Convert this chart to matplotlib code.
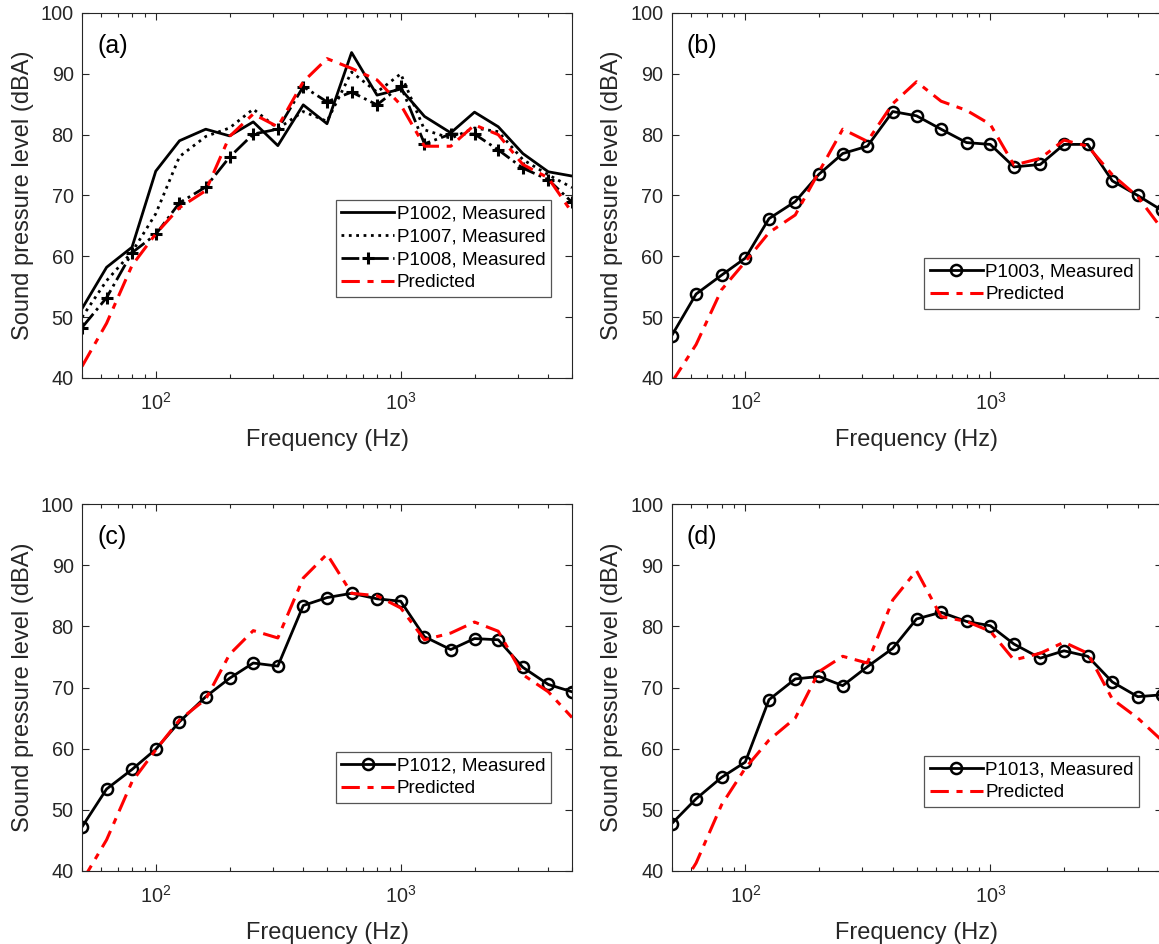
import matplotlib
matplotlib.use("Agg")
import matplotlib.pyplot as plt
from matplotlib.ticker import LogLocator, NullFormatter, MultipleLocator

plt.rcParams['font.family'] = ['Liberation Sans', 'DejaVu Sans']
plt.rcParams['mathtext.fontset'] = 'custom'
plt.rcParams['mathtext.rm'] = 'Liberation Sans'
plt.rcParams['mathtext.it'] = 'Liberation Sans:italic'

# ── Data: one-third octave band centre frequencies (Hz) ─────────────────
freq = [50, 63, 80, 100, 125, 160, 200, 250, 315, 400, 500, 630, 800,
        1000, 1250, 1600, 2000, 2500, 3150, 4000, 5000]

# (a)
p1002 = [51.4, 58.2, 61.5, 74.0, 79.0, 80.9, 79.8, 82.1, 78.2, 84.9, 81.8,
         93.5, 86.5, 87.5, 83.0, 80.3, 83.7, 81.3, 76.9, 73.9, 73.2]
p1007 = [50.0, 56.0, 60.7, 67.0, 76.4, 79.7, 81.1, 84.2, 81.0, 83.8, 82.2,
         90.3, 87.0, 90.0, 80.8, 79.4, 81.1, 80.5, 75.9, 73.4, 71.3]
p1008 = [48.3, 53.2, 60.6, 63.6, 68.8, 71.4, 76.3, 80.1, 80.9, 87.9, 85.4,
         87.0, 84.9, 88.0, 78.5, 80.1, 80.1, 77.5, 74.5, 72.6, 68.9]
pred_a = [41.9, 49.0, 58.5, 63.7, 68.0, 70.8, 79.7, 83.4, 81.3, 88.7, 92.5,
          90.9, 89.0, 84.9, 78.1, 78.1, 81.6, 80.0, 75.1, 72.9, 67.2]

# (b)
p1003 = [46.9, 53.8, 56.9, 59.7, 66.2, 69.0, 73.5, 76.9, 78.1, 83.8, 83.1,
         80.9, 78.7, 78.4, 74.7, 75.1, 78.4, 78.4, 72.4, 70.0, 67.6]
pred_b = [39.2, 45.5, 54.5, 59.1, 63.9, 66.8, 73.9, 80.9, 78.9, 85.1, 88.7,
          85.5, 84.0, 81.7, 75.0, 76.1, 79.1, 78.1, 73.4, 69.8, 64.6]

# (c)
p1012 = [47.2, 53.4, 56.6, 59.9, 64.4, 68.5, 71.5, 74.0, 73.5, 83.4, 84.7,
         85.4, 84.5, 84.1, 78.3, 76.2, 78.0, 77.8, 73.3, 70.5, 69.3]
pred_c = [38.3, 45.1, 54.6, 59.8, 64.7, 68.1, 75.4, 79.3, 78.1, 87.9, 91.8,
          85.4, 85.0, 83.0, 77.8, 78.9, 80.7, 79.2, 72.1, 69.3, 65.1]

# (d)
p1013 = [47.7, 51.8, 55.3, 57.8, 68.0, 71.4, 71.8, 70.3, 73.4, 76.4, 81.2,
         82.3, 80.8, 80.1, 77.1, 74.8, 76.0, 75.1, 70.9, 68.5, 68.8]
pred_d = [34.8, 41.3, 50.8, 56.8, 61.4, 65.0, 72.6, 75.1, 74.0, 84.3, 89.1,
          81.6, 80.8, 79.2, 74.5, 75.6, 77.4, 75.6, 68.1, 65.0, 61.4]

AX_COLOR = "#262626"
RED_DASHES = (6, 2.5, 2, 2.5)

W, H = 1159, 944


def make_axes(fig, left, top, right, bottom):
    return fig.add_axes([left / W, 1 - bottom / H, (right - left) / W, (bottom - top) / H])


def style_axes(ax, tag):
    ax.set_xscale("log")
    ax.set_xlim(50, 5000)
    ax.set_ylim(40, 100)
    ax.yaxis.set_major_locator(MultipleLocator(10))
    ax.xaxis.set_major_locator(LogLocator(base=10))
    ax.xaxis.set_minor_locator(LogLocator(base=10, subs=range(2, 10)))
    ax.xaxis.set_minor_formatter(NullFormatter())
    ax.tick_params(which="both", direction="in", top=True, right=True,
                   colors=AX_COLOR, labelsize=14.3, width=0.8)
    ax.tick_params(which="major", length=5)
    ax.tick_params(which="minor", length=3)
    ax.tick_params(axis="x", pad=10)
    ax.tick_params(axis="y", pad=6)
    for s in ax.spines.values():
        s.set_color(AX_COLOR)
        s.set_linewidth(0.8)
    ax.set_xlabel("Frequency (Hz)", fontsize=17, color=AX_COLOR, labelpad=11)
    ax.set_ylabel("Sound pressure level (dBA)", fontsize=17, color=AX_COLOR, labelpad=5)
    ax.text(0.031, 0.91, tag, transform=ax.transAxes, fontsize=18,
            ha="left", va="center", color="black")


def add_legend(ax, x0, y0):
    leg = ax.legend(loc="lower left", bbox_to_anchor=(x0, y0), fontsize=13.6,
                    fancybox=False, framealpha=1, edgecolor="#555555",
                    handlelength=2.8, handletextpad=0.12, borderpad=0.3,
                    labelspacing=0.3, borderaxespad=0)
    leg.get_frame().set_linewidth(0.9)


fig = plt.figure(figsize=(W / 100, H / 100), dpi=100)

# (a)
ax = make_axes(fig, 82, 13, 572, 378)
ax.plot(freq, p1002, "-", color="black", lw=2, label="P1002, Measured")
ax.plot(freq, p1007, ":", color="black", lw=2, label="P1007, Measured")
ax.plot(freq, p1008, "-.", color="black", lw=2, marker="+", ms=8, mew=2.2,
        label="P1008, Measured")
ax.plot(freq, pred_a, color="red", lw=2.2, dashes=RED_DASHES, label="Predicted")
style_axes(ax, "(a)")
add_legend(ax, 0.518, 0.222)

# (b)
ax = make_axes(fig, 671.5, 13, 1161.5, 378)
ax.plot(freq, p1003, "-", color="black", lw=2, marker="o", ms=8, mfc="none",
        mew=1.8, label="P1003, Measured")
ax.plot(freq, pred_b, color="red", lw=2.2, dashes=RED_DASHES, label="Predicted")
style_axes(ax, "(b)")
add_legend(ax, 0.516, 0.189)

# (c)
ax = make_axes(fig, 82, 504, 572, 871)
ax.plot(freq, p1012, "-", color="black", lw=2, marker="o", ms=8, mfc="none",
        mew=1.8, label="P1012, Measured")
ax.plot(freq, pred_c, color="red", lw=2.2, dashes=RED_DASHES, label="Predicted")
style_axes(ax, "(c)")
add_legend(ax, 0.518, 0.185)

# (d)
ax = make_axes(fig, 671.5, 504, 1161.5, 871)
ax.plot(freq, p1013, "-", color="black", lw=2, marker="o", ms=8, mfc="none",
        mew=1.8, label="P1013, Measured")
ax.plot(freq, pred_d, color="red", lw=2.2, dashes=RED_DASHES, label="Predicted")
style_axes(ax, "(d)")
add_legend(ax, 0.516, 0.174)

fig.savefig("out.png", dpi=100)
